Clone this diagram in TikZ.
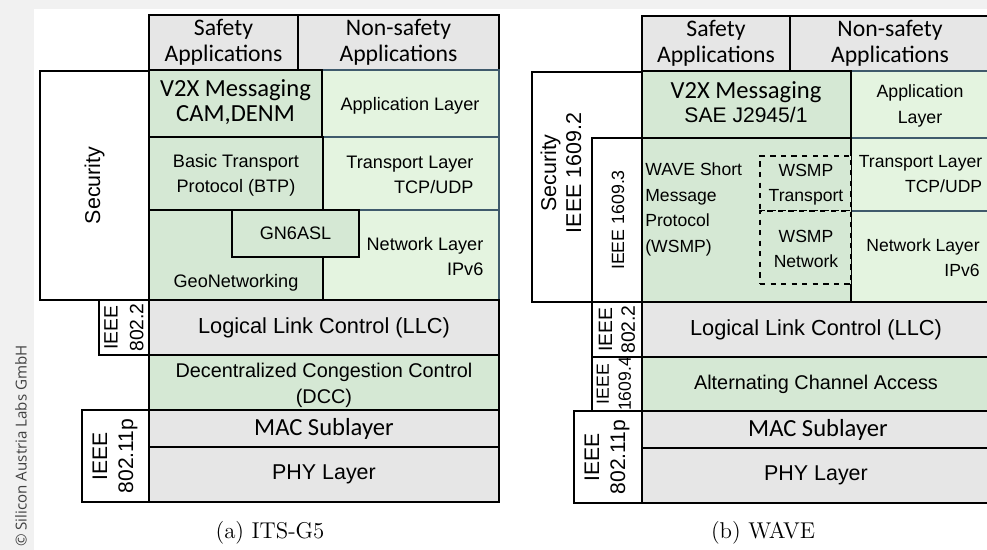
\documentclass[tikz,border=0pt]{standalone}
\usepackage{fontspec}
\setsansfont{Liberation Sans}
\newfontfamily\calfont{Carlito}
\newfontfamily\osfont{Open Sans}
\usetikzlibrary{fit,positioning}
\definecolor{appgray}{HTML}{E6E6E6}
\definecolor{dkgreen}{HTML}{D5E8D4}
\definecolor{ltgreen}{HTML}{E4F4E0}
\definecolor{ltedge}{HTML}{3F5A6C}
\definecolor{pagegray}{HTML}{F1F1F1}

\begin{document}
\begin{tikzpicture}[x=0.02cm, y=-0.02cm,
    lyr/.style={draw, line width=1pt, inner sep=0pt},
    graylyr/.style={lyr, fill=appgray},
    safelyr/.style={lyr, fill=dkgreen},
    netlyr/.style={lyr, fill=ltgreen, draw=ltedge},
    side/.style={lyr, fill=white},
    wsmpbox/.style={lyr, dashed, line width=0.9pt, fill=dkgreen},
    txt/.style={inner sep=0pt, align=center, font=\sffamily\fontsize{10.3}{14.2}\selectfont},
    small/.style={txt, font=\sffamily\fontsize{10}{14.2}\selectfont},
    apps/.style={txt, font=\calfont\fontsize{13.5}{14.8}\selectfont},
    v2x/.style={txt, font=\calfont\fontsize{14}{13.8}\selectfont},
    big/.style={txt, font=\sffamily\fontsize{12.4}{14.8}\selectfont},
    mid/.style={txt, font=\sffamily\fontsize{11.3}{14.8}\selectfont},
    cal/.style={txt, font=\calfont\fontsize{14}{16}\selectfont},
    ieee/.style={txt, rotate=90, font=\sffamily\fontsize{11}{14.7}\selectfont},
    caption/.style={inner sep=0pt, font=\rmfamily\fontsize{13}{16}\selectfont}]

  \useasboundingbox (0,0) rectangle (987,550);
  \clip (0,0) rectangle (987,550);
  \fill[pagegray] (0,0) rectangle (987,550);
  \fill[white] (34,9) rectangle (987,550);
  \node[inner sep=0pt, rotate=90, text=black!75, font=\osfont\fontsize{8.6}{10}\selectfont] (copy) at (21,446) {© Silicon Austria Labs GmbH};

  % (a) ITS-G5
  \node[side, fit={(40,71) (149,300)}] (secA) {};
  \node[txt, rotate=90, font=\sffamily\fontsize{12.2}{14}\selectfont] (secAtxt) at (secA) {Security};
  \node[graylyr, fit={(149,15) (298,70)}] (safeA) {};
  \node[apps] (safeAtxt) at (safeA) {Safety\\Applications};
  \node[graylyr, fit={(298,15) (499,70)}] (nonsafeA) {};
  \node[apps] (nonsafeAtxt) at (nonsafeA) {Non-safety\\Applications};
  \node[netlyr, fit={(322,70) (499,137)}] (appA) {};
  \node[txt] (appAtxt) at (410,106) {Application Layer};
  \node[safelyr, fit={(149,70) (322,137)}] (v2xA) {};
  \node[v2x] (v2xAtxt) at (235.5,102) {V2X Messaging\\CAM,DENM};
  \node[netlyr, fit={(323,137) (499,210)}] (tcpA) {};
  \node[txt, align=right] (tcpAtxt) at (410,175) {Transport Layer\\TCP/UDP};
  \node[safelyr, fit={(149,137) (323,210)}] (btpA) {};
  \node[txt] (btpAtxt) at (236,175) {Basic Transport\\Protocol (BTP)};
  \node[netlyr, fit={(323,210) (499,300)}] (netA) {};
  \node[txt, align=right] (netAtxt) at (425,257) {Network Layer\\IPv6};
  \node[safelyr, fit={(149,210) (323,300)}] (geoA) {};
  \node[txt] (geoAtxt) at (236,283) {GeoNetworking};
  \node[safelyr, fit={(232,210) (359,257)}] (gn6A) {};
  \node[txt] (gn6Atxt) at (gn6A) {GN6ASL};
  \node[graylyr, fit={(149,300) (499,355)}] (llcA) {};
  \node[big] (llcAtxt) at (llcA) {Logical Link Control (LLC)};
  \node[side, fit={(99,300) (149,355)}] (ieee22A) {};
  \node[ieee] (ieee22Atxt) at (ieee22A) {IEEE\\802.2};
  \node[safelyr, fit={(149,355) (499,410)}] (dccA) {};
  \node[mid] (dccAtxt) at (324,385) {Decentralized Congestion Control\\(DCC)};
  \node[graylyr, fit={(149,410) (499,447)}] (macA) {};
  \node[cal] (macAtxt) at (macA) {MAC Sublayer};
  \node[graylyr, fit={(149,447) (499,502)}] (phyA) {};
  \node[txt, font=\sffamily\fontsize{12.2}{14}\selectfont] (phyAtxt) at (phyA) {PHY Layer};
  \node[side, fit={(82,410) (149,502)}] (ieee11A) {};
  \node[ieee, font=\sffamily\fontsize{12}{14.8}\selectfont] (ieee11Atxt) at (115,456) {IEEE\\802.11p};
  \node[caption] (capA) at (270,533) {(a) ITS-G5};

  % (b) WAVE
  \node[side, fit={(532,72) (642,302)}] (secB) {};
  \node[txt, rotate=90, font=\sffamily\fontsize{12.2}{14.2}\selectfont] (secBtxt) at (561,173) {Security\\IEEE 1609.2};
  \node[side, fit={(592,138) (642,302)}] (ieee3B) {};
  \node[txt, rotate=90, font=\sffamily\fontsize{10.1}{12}\selectfont] (ieee3Btxt) at (618,220) {IEEE 1609.3};
  \node[graylyr, fit={(642,16) (790,71)}] (safeB) {};
  \node[apps] (safeBtxt) at (safeB) {Safety\\Applications};
  \node[graylyr, fit={(790,16) (992,71)}] (nonsafeB) {};
  \node[apps] (nonsafeBtxt) at (890,43.5) {Non-safety\\Applications};
  \node[netlyr, fit={(851,71) (992,138)}] (appB) {};
  \node[txt, font=\sffamily\fontsize{10.1}{14.8}\selectfont] (appBtxt) at (920,106) {Application\\Layer};
  \node[safelyr, fit={(642,71) (851,138)}] (v2xB) {};
  \node[v2x] (v2xBtxt) at (746,102) {V2X Messaging\\{\sffamily\fontsize{12}{14}\selectfont SAE J2945/1}};
  \node[netlyr, fit={(851,138) (992,211)}] (tcpB) {};
  \node[small, align=right] (tcpBtxt) at (920.5,174) {Transport Layer\\TCP/UDP};
  \node[netlyr, fit={(851,211) (992,302)}] (netB) {};
  \node[small, align=right] (netBtxt) at (923,258) {Network Layer\\IPv6};
  \node[safelyr, fit={(642,138) (851,302)}] (wsmpB) {};
  \node[small, anchor=west, align=left, font=\sffamily\fontsize{10}{14.6}\selectfont] (wsmpBtxt) at (645,209.5) {WAVE Short\\Message\\Protocol\\(WSMP)};
  \node[wsmpbox, fit={(760,156) (851,211)}] (wtrB) {};
  \node[small] (wtrBtxt) at (806,185) {WSMP\\Transport};
  \node[wsmpbox, fit={(760,211) (851,284)}] (wnetB) {};
  \node[small] (wnetBtxt) at (806,249) {WSMP\\Network};
  \node[graylyr, fit={(642,302) (992,357)}] (llcB) {};
  \node[big] (llcBtxt) at (816,329.5) {Logical Link Control (LLC)};
  \node[side, fit={(592,302) (642,357)}] (ieee22B) {};
  \node[ieee, font=\sffamily\fontsize{11}{13}\selectfont] (ieee22Btxt) at (ieee22B) {IEEE\\802.2};
  \node[safelyr, fit={(642,357) (992,411)}] (acaB) {};
  \node[mid] (acaBtxt) at (816,384) {Alternating Channel Access};
  \node[side, fit={(592,357) (642,411)}] (ieee4B) {};
  \node[ieee, font=\sffamily\fontsize{10}{12.5}\selectfont] (ieee4Btxt) at (614,384) {IEEE\\1609.4};
  \node[graylyr, fit={(642,411) (992,448)}] (macB) {};
  \node[cal] (macBtxt) at (818,429.5) {MAC Sublayer};
  \node[graylyr, fit={(642,448) (992,503)}] (phyB) {};
  \node[txt, font=\sffamily\fontsize{12.2}{14}\selectfont] (phyBtxt) at (816,475.5) {PHY Layer};
  \node[side, fit={(574,411) (642,503)}] (ieee11B) {};
  \node[ieee, font=\sffamily\fontsize{12}{14.8}\selectfont] (ieee11Btxt) at (607,457) {IEEE\\802.11p};
  \node[caption] (capB) at (763,533) {(b) WAVE};
\end{tikzpicture}
\end{document}
